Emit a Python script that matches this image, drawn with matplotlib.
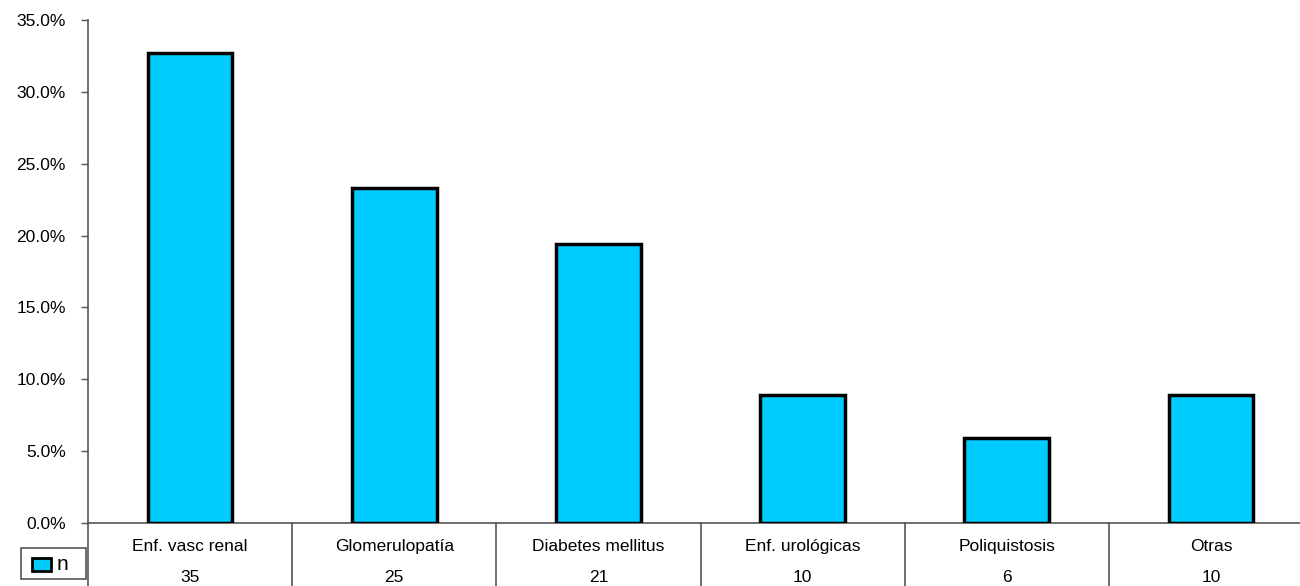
import matplotlib
matplotlib.use("Agg")
import matplotlib.pyplot as plt
from matplotlib.patches import Rectangle
from matplotlib.ticker import FuncFormatter, MultipleLocator

categories = ["Enf. vasc renal", "Glomerulopatía", "Diabetes mellitus",
              "Enf. urológicas", "Poliquistosis", "Otras"]
counts = [35, 25, 21, 10, 6, 10]
percent = [32.7, 23.3, 19.4, 8.9, 5.9, 8.9]
series_name = "n"

plt.rcParams['font.family'] = ['Liberation Sans', 'DejaVu Sans']

W, H = 1300, 586
fig = plt.figure(figsize=(W / 100, H / 100), dpi=100)
left_px, right_px, top_px, bottom_px = 88, 1313, 20, 523
ax = fig.add_axes([left_px / W, 1 - bottom_px / H,
                   (right_px - left_px) / W, (bottom_px - top_px) / H])

x = list(range(len(categories)))
ax.bar(x, percent, width=0.415, color="#00CCFF", edgecolor="black",
       linewidth=2.5, zorder=3)

ax.set_xlim(-0.5, len(categories) - 0.5)
ax.set_ylim(0, 35)
ax.yaxis.set_major_locator(MultipleLocator(5))
ax.yaxis.set_major_formatter(FuncFormatter(lambda v, p: f"{v:.1f}%"))
ax.tick_params(axis='y', direction='out', length=5, width=1, color="#555555",
               labelsize=12.5, pad=11, labelcolor="black")
ax.set_xticks([])
for s in ["top", "right"]:
    ax.spines[s].set_visible(False)
for s in ["left", "bottom"]:
    ax.spines[s].set_color("#555555")
    ax.spines[s].set_linewidth(1.2)

trans = ax.get_xaxis_transform()
# table grid lines
for k in range(len(categories) + 1):
    ax.plot([k - 0.5, k - 0.5], [0, -0.3], transform=trans, color="#555555",
            lw=1.2, clip_on=False)
for i, (c, n) in enumerate(zip(categories, counts)):
    ax.text(i, -0.046, c, transform=trans, ha="center", va="center",
            fontsize=12.5, clip_on=False)
    ax.text(i, -0.108, str(n), transform=trans, ha="center", va="center",
            fontsize=12.5, clip_on=False)

# legend box
def fx(px):
    return px / W
def fy(py):
    return 1 - py / H

fig.patches.append(Rectangle((fx(21), fy(579)), fx(86) - fx(21), fy(548) - fy(579),
                             transform=fig.transFigure, facecolor="white",
                             edgecolor="#555555", lw=1.2))
fig.patches.append(Rectangle((fx(32), fy(571)), fx(51) - fx(32), fy(558) - fy(571),
                             transform=fig.transFigure, facecolor="#00CCFF",
                             edgecolor="black", lw=2))
fig.text(fx(57), fy(564), series_name, ha="left", va="center", fontsize=15)

fig.savefig("out.png", dpi=100)
